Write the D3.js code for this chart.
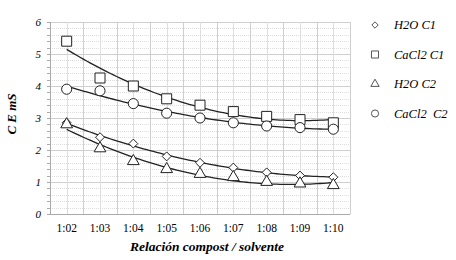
<!DOCTYPE html>
<html>
<head>
<meta charset="utf-8">
<script src="https://cdn.jsdelivr.net/npm/d3@7"></script>
<style>
  html, body { margin: 0; padding: 0; background: #fff; }
</style>
</head>
<body>
<div id="chart"></div>
<script>
const ratios = ['1:02', '1:03', '1:04', '1:05', '1:06', '1:07', '1:08', '1:09', '1:10'];
const h2oC1 = [2.85, 2.4, 2.2, 1.8, 1.6, 1.45, 1.3, 1.2, 1.15];
const cacl2C1 = [5.4, 4.25, 4.0, 3.6, 3.4, 3.2, 3.05, 2.95, 2.85];
const h2oC2 = [2.8, 2.05, 1.65, 1.4, 1.25, 1.15, 1.0, 0.95, 0.9];
const cacl2C2 = [3.9, 3.85, 3.45, 3.15, 3.0, 2.85, 2.75, 2.7, 2.65];
const seriesNames = ['H2O C1', 'CaCl2 C1', 'H2O C2', 'CaCl2  C2'];
const yTicks = [0, 1, 2, 3, 4, 5, 6];

const FONT = 'Times New Roman, Times, Liberation Serif, Tinos, DejaVu Serif, Noto Serif, FreeSerif, serif';

// rotated square, like the spreadsheet diamond
const diamond = {
  draw(context, size) {
    const r = Math.sqrt(size / 2);
    context.moveTo(0, -r);
    context.lineTo(r, 0);
    context.lineTo(0, r);
    context.lineTo(-r, 0);
    context.closePath();
  }
};

const series = [
  { name: seriesNames[0], values: h2oC1, symbol: diamond, size: 40 },
  { name: seriesNames[1], values: cacl2C1, symbol: d3.symbolSquare, size: 100 },
  { name: seriesNames[2], values: h2oC2, symbol: d3.symbolTriangle, size: 60 },
  { name: seriesNames[3], values: cacl2C2, symbol: d3.symbolCircle, size: 80 }
];

const width = 456;
const height = 260;
const margin = { top: 22, right: 106, bottom: 46, left: 50 };

const svg = d3.select('#chart').append('svg')
  .attr('width', width)
  .attr('height', height)
  .style('font-family', FONT)
  .style('display', 'block');

const x = d3.scalePoint().domain(ratios).range([margin.left, width - margin.right]).padding(0.5);
const y = d3.scaleLinear().domain([0, 6]).range([height - margin.bottom, margin.top]);

// grid
const grid = svg.append('g');
const step = x.step();
d3.range(0, 6.01, 0.2).forEach((v) => {
  const major = Math.abs(v - Math.round(v)) < 1e-6;
  grid.append('line')
    .attr('x1', margin.left).attr('x2', width - margin.right)
    .attr('y1', Math.round(y(v)) + 0.5).attr('y2', Math.round(y(v)) + 0.5)
    .attr('stroke', major ? '#cfcfcf' : '#dcdcdc')
    .attr('stroke-dasharray', major ? null : '1,1');
  grid.append('line')
    .attr('x1', margin.left - 3).attr('x2', margin.left)
    .attr('y1', Math.round(y(v)) + 0.5).attr('y2', Math.round(y(v)) + 0.5)
    .attr('stroke', '#aaa');
});
d3.range(0, ratios.length * 2 + 1).forEach((i) => {
  const gx = Math.round(margin.left + i * step / 2) + 0.5;
  grid.append('line')
    .attr('x1', gx).attr('x2', gx)
    .attr('y1', y(6)).attr('y2', y(0))
    .attr('stroke', i % 2 === 0 ? '#cfcfcf' : '#dedede');
});

// axes
svg.append('line')
  .attr('x1', margin.left + 0.5).attr('x2', margin.left + 0.5)
  .attr('y1', y(6)).attr('y2', y(0))
  .attr('stroke', '#aaa');
svg.append('line')
  .attr('x1', margin.left).attr('x2', width - margin.right)
  .attr('y1', Math.round(y(0)) + 0.5).attr('y2', Math.round(y(0)) + 0.5)
  .attr('stroke', '#aaa');

svg.append('g').selectAll('text').data(yTicks).join('text')
  .attr('x', margin.left - 9)
  .attr('y', (d) => y(d) + 4)
  .attr('text-anchor', 'end')
  .attr('font-size', 11)
  .attr('font-style', 'italic')
  .text((d) => d);

svg.append('g').selectAll('text').data(ratios).join('text')
  .attr('x', (d) => x(d))
  .attr('y', y(0) + 18)
  .attr('text-anchor', 'middle')
  .attr('font-size', 11.5)
  .text((d) => d);

svg.append('text')
  .attr('transform', `translate(16,${(y(6) + y(0)) / 2 - 4}) rotate(-90)`)
  .attr('text-anchor', 'middle')
  .attr('font-size', 13)
  .attr('font-style', 'italic')
  .attr('font-weight', 'bold')
  .text('C E  mS');

svg.append('text')
  .attr('x', 207)
  .attr('y', 251)
  .attr('text-anchor', 'middle')
  .attr('font-size', 13.5)
  .attr('font-style', 'italic')
  .attr('font-weight', 'bold')
  .text('Relación compost / solvente');

// quadratic least-squares trend
function quadFit(values) {
  const n = values.length;
  const xs = values.map((_, i) => i);
  const s = (f) => d3.sum(xs, (xi, i) => f(xi, values[i]));
  const m = [
    [n, s((a) => a), s((a) => a * a), s((a, b) => b)],
    [s((a) => a), s((a) => a * a), s((a) => a ** 3), s((a, b) => a * b)],
    [s((a) => a * a), s((a) => a ** 3), s((a) => a ** 4), s((a, b) => a * a * b)]
  ];
  for (let i = 0; i < 3; i++) {
    for (let k = i + 1; k < 3; k++) {
      const f = m[k][i] / m[i][i];
      for (let j = i; j < 4; j++) m[k][j] -= f * m[i][j];
    }
  }
  const c = [0, 0, 0];
  for (let i = 2; i >= 0; i--) {
    let acc = m[i][3];
    for (let j = i + 1; j < 3; j++) acc -= m[i][j] * c[j];
    c[i] = acc / m[i][i];
  }
  return (t) => c[0] + c[1] * t + c[2] * t * t;
}

const line = d3.line().x((d) => d[0]).y((d) => d[1]);
const trendLayer = svg.append('g');
series.forEach((s) => {
  const fit = quadFit(s.values);
  const pts = d3.range(0, s.values.length - 1 + 0.001, 0.1).map((t) => [
    x(ratios[0]) + t * step,
    y(fit(t))
  ]);
  trendLayer.append('path')
    .attr('d', line(pts))
    .attr('fill', 'none')
    .attr('stroke', '#222')
    .attr('stroke-width', 1.3);
});

const markLayer = svg.append('g');
series.forEach((s) => {
  markLayer.selectAll(null).data(s.values).join('path')
    .attr('transform', (d, i) => `translate(${x(ratios[i])},${y(d)})`)
    .attr('d', d3.symbol().type(s.symbol).size(s.size))
    .attr('fill', '#fff')
    .attr('stroke', '#222')
    .attr('stroke-width', 1);
});

// legend
const legend = svg.append('g');
series.forEach((s, i) => {
  const ly = 25 + i * 29.5;
  legend.append('path')
    .attr('transform', `translate(375,${ly})`)
    .attr('d', d3.symbol().type(s.symbol).size(s.size * 0.5))
    .attr('fill', '#fff')
    .attr('stroke', '#555');
  legend.append('text')
    .attr('x', 394)
    .attr('y', ly + 4)
    .attr('font-size', 12.5)
    .attr('font-style', 'italic')
    .style('white-space', 'pre')
    .text(s.name);
});
</script>
</body>
</html>
